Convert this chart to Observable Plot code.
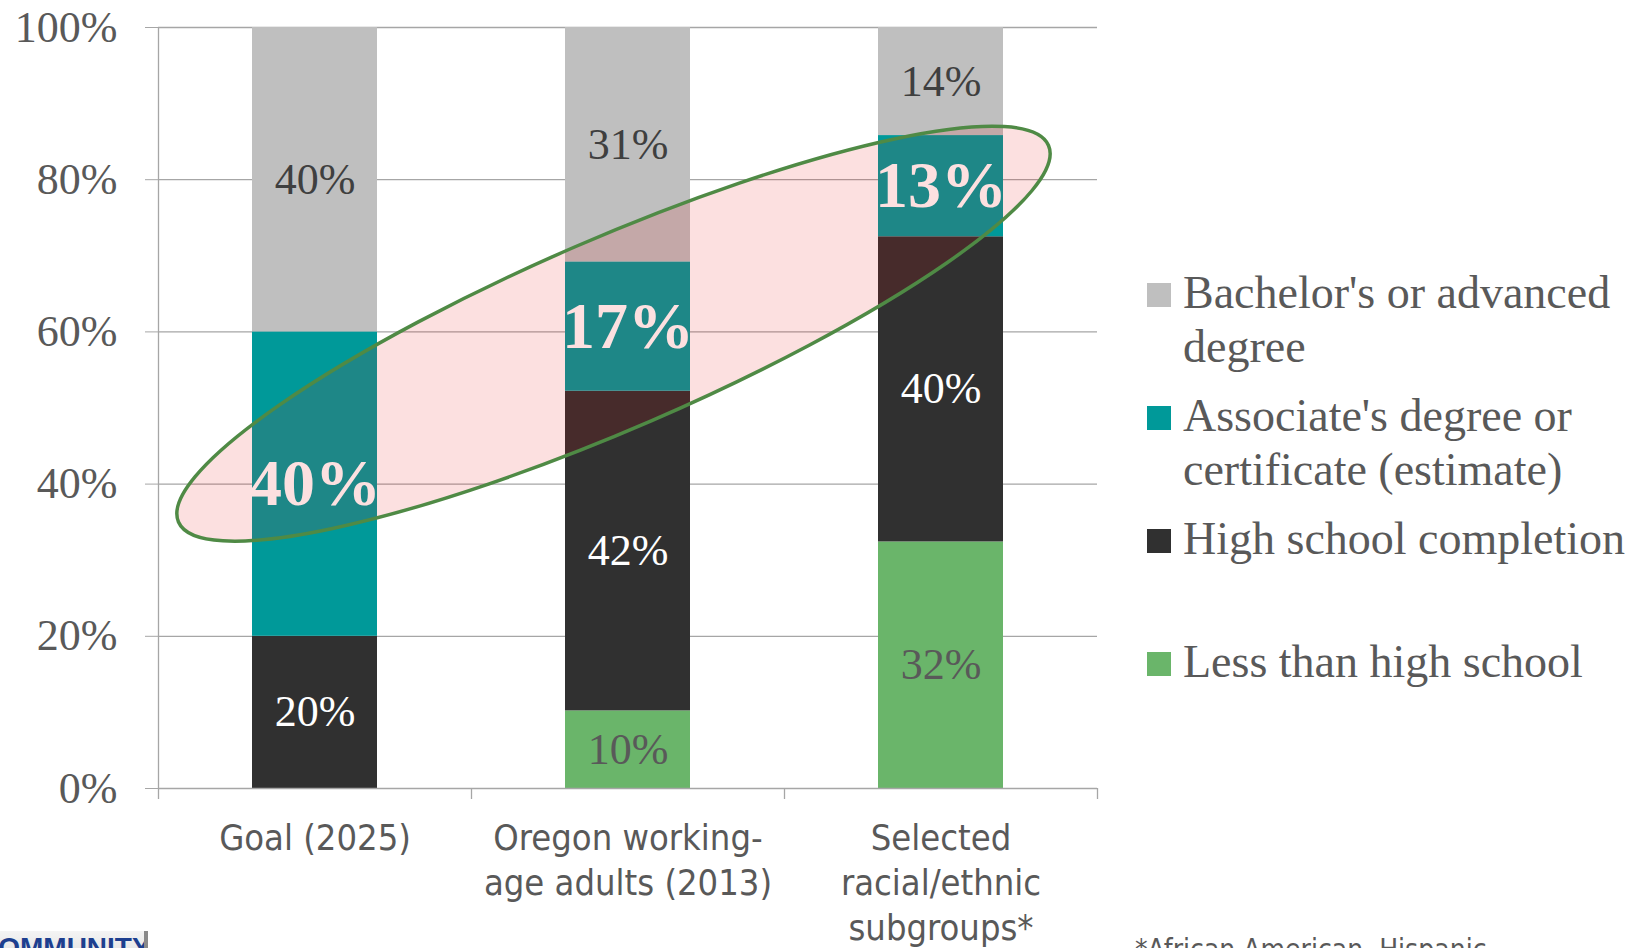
<!DOCTYPE html>
<html>
<head>
<meta charset="utf-8">
<script src="https://cdn.jsdelivr.net/npm/d3@7"></script>
<script src="https://cdn.jsdelivr.net/npm/@observablehq/plot@0.6"></script>
<style>
  html, body { margin: 0; padding: 0; background: #fff; overflow: hidden; }
  #wrap { position: relative; width: 1651px; height: 948px; overflow: hidden; background: #fff; }
  #chart { position: absolute; left: 0; top: 0; }
  #legend { position: absolute; left: 1147px; top: 266px; font-family: "Liberation Serif", serif; font-size: 46px; line-height: 54px; color: #595959; }
  #legend .item { position: relative; height: 123px; }
  #legend .sw { position: absolute; left: 0; top: 17px; width: 24px; height: 24px; }
  #legend .lab { position: absolute; left: 36px; top: 0; width: 470px; white-space: nowrap; }
  #note { position: absolute; left: 1135px; top: 933px; font-family: "DejaVu Sans Condensed", "DejaVu Sans", sans-serif; font-size: 28px; line-height: 34px; color: #595959; white-space: nowrap; }
  #logo { position: absolute; left: -24px; top: 931px; width: 172px; height: 40px; background: linear-gradient(#f4f4f4, #d8d8d8); border-right: 4px solid #8a8a8a; font-family: "Liberation Sans", sans-serif; font-weight: bold; font-size: 28px; line-height: 34px; color: #1d3f8f; padding-left: 2px; box-sizing: border-box; white-space: nowrap; overflow: hidden; }
</style>
</head>
<body>
<div id="wrap">
  <div id="chart"></div>
  <div id="legend"></div>
  <div id="note">*African American, Hispanic</div>
  <div id="logo">COMMUNITY</div>
</div>
<script>
// ---- data ----
const categories = ["Goal (2025)", "Oregon working-age adults (2013)", "Selected racial/ethnic subgroups*"];
const categoryLines = ["Goal (2025)", "Oregon working-\nage adults (2013)", "Selected\nracial/ethnic\nsubgroups*"];
const levels = ["Less than high school", "High school completion", "Associate's degree or certificate (estimate)", "Bachelor's or advanced degree"];
const legendLines = ["Less than high school", "High school completion", "Associate's degree or\ncertificate (estimate)", "Bachelor's or advanced\ndegree"];
const levelColors = ["#6ab56a", "#303030", "#009999", "#bfbfbf"];
const lessThanHS = [0, 10.2, 32.4];
const highSchool = [20, 42.0, 40.1];
const associate = [40, 17.0, 13.3];
const bachelor = [40, 30.8, 14.2];
const yTicks = [0, 20, 40, 60, 80, 100];

const series = [lessThanHS, highSchool, associate, bachelor];
const table = [];
categories.forEach((c, i) => {
  levels.forEach((l, j) => table.push({category: c, level: l, value: series[j][i]}));
});

// ---- layout ----
const W = 1651, H = 948;
const mL = 158, mR = 554, mT = 27, mB = 160;
const step = (W - mL - mR) / categories.length;
const unitsPerPx = 100 / (H - mT - mB);
const tickBelow = -11 * unitsPerPx;
const gridColor = "#a6a6a6";
const serif = "Liberation Serif";
const sans = "DejaVu Sans Condensed";

const labelStyles = [
  {fill: "#595959", size: 44, weight: "normal"},
  {fill: "#ffffff", size: 44, weight: "normal"},
  {fill: "#ffffff", size: 66, weight: "bold"},
  {fill: "#3f3f3f", size: 44, weight: "normal"}
];

const labelMarks = levels.map((lvl, j) => Plot.text(table, Plot.filter(
  d => d.level === lvl && d.value > 0,
  Plot.stackY({
    x: "category", y: "value", z: "level",
    text: d => Math.round(d.value) + "%",
    fill: labelStyles[j].fill,
    fontSize: labelStyles[j].size,
    fontWeight: labelStyles[j].weight,
    fontFamily: serif
  })
)));

function ellipseMark(index, scales) {
  const x = scales.x, y = scales.y;
  const bw = typeof x.bandwidth === "function" ? x.bandwidth() : 0;
  const cx = x(categories[1]) + bw / 2 - 14;
  const cy = y(59.7);
  const g = d3.create("svg:g");
  g.append("ellipse")
    .attr("cx", 0).attr("cy", 0).attr("rx", 474).attr("ry", 95)
    .attr("transform", `translate(${cx},${cy}) rotate(-23.4)`)
    .attr("fill", "rgb(233,15,15)").attr("fill-opacity", 0.13)
    .attr("stroke", "#4f8a45").attr("stroke-width", 3.5);
  return g.node();
}

const chart = Plot.plot({
  width: W, height: H,
  marginLeft: mL, marginRight: mR, marginTop: mT, marginBottom: mB,
  style: {background: "#fff", overflow: "visible"},
  x: {domain: categories, paddingInner: 0.6, paddingOuter: 0.3, label: null},
  y: {domain: [0, 100], label: null},
  color: {domain: levels, range: levelColors},
  marks: [
    Plot.ruleY(yTicks.slice(1), {stroke: gridColor, strokeWidth: 1.3}),
    Plot.barY(table, {x: "category", y: "value", fill: "level"}),
    Plot.ruleY([0], {stroke: gridColor, strokeWidth: 1.5}),
    Plot.ruleX([categories[0]], {x: d => d, dx: -step / 2, y1: 100, y2: tickBelow, stroke: gridColor, strokeWidth: 1.3}),
    Plot.ruleX(categories.slice(1), {x: d => d, dx: -step / 2, y1: 0, y2: tickBelow, stroke: gridColor, strokeWidth: 1.3}),
    Plot.ruleX([categories[categories.length - 1]], {x: d => d, dx: step / 2, y1: 0, y2: tickBelow, stroke: gridColor, strokeWidth: 1.3}),
    Plot.axisY({ticks: yTicks, tickSize: 13, tickPadding: 28, tickFormat: d => d + "%",
      fontSize: 44, fontFamily: serif, fill: "#595959", stroke: gridColor, label: null}),
    Plot.axisX({tickSize: 0, tickPadding: 30, tickFormat: d => categoryLines[categories.indexOf(d)],
      fontSize: 36, lineHeight: 1.25, fontFamily: sans, fill: "#595959", label: null}),
    ...labelMarks,
    ellipseMark
  ]
});
document.getElementById("chart").appendChild(chart);

// ---- legend (top to bottom: reverse stacking order) ----
const legend = document.getElementById("legend");
for (let j = levels.length - 1; j >= 0; j--) {
  const item = document.createElement("div");
  item.className = "item";
  const sw = document.createElement("div");
  sw.className = "sw";
  sw.style.background = levelColors[j];
  const lab = document.createElement("div");
  lab.className = "lab";
  legendLines[j].split("\n").forEach((line, k) => {
    if (k) lab.appendChild(document.createElement("br"));
    lab.appendChild(document.createTextNode(line));
  });
  item.appendChild(sw);
  item.appendChild(lab);
  legend.appendChild(item);
}
</script>
</body>
</html>
